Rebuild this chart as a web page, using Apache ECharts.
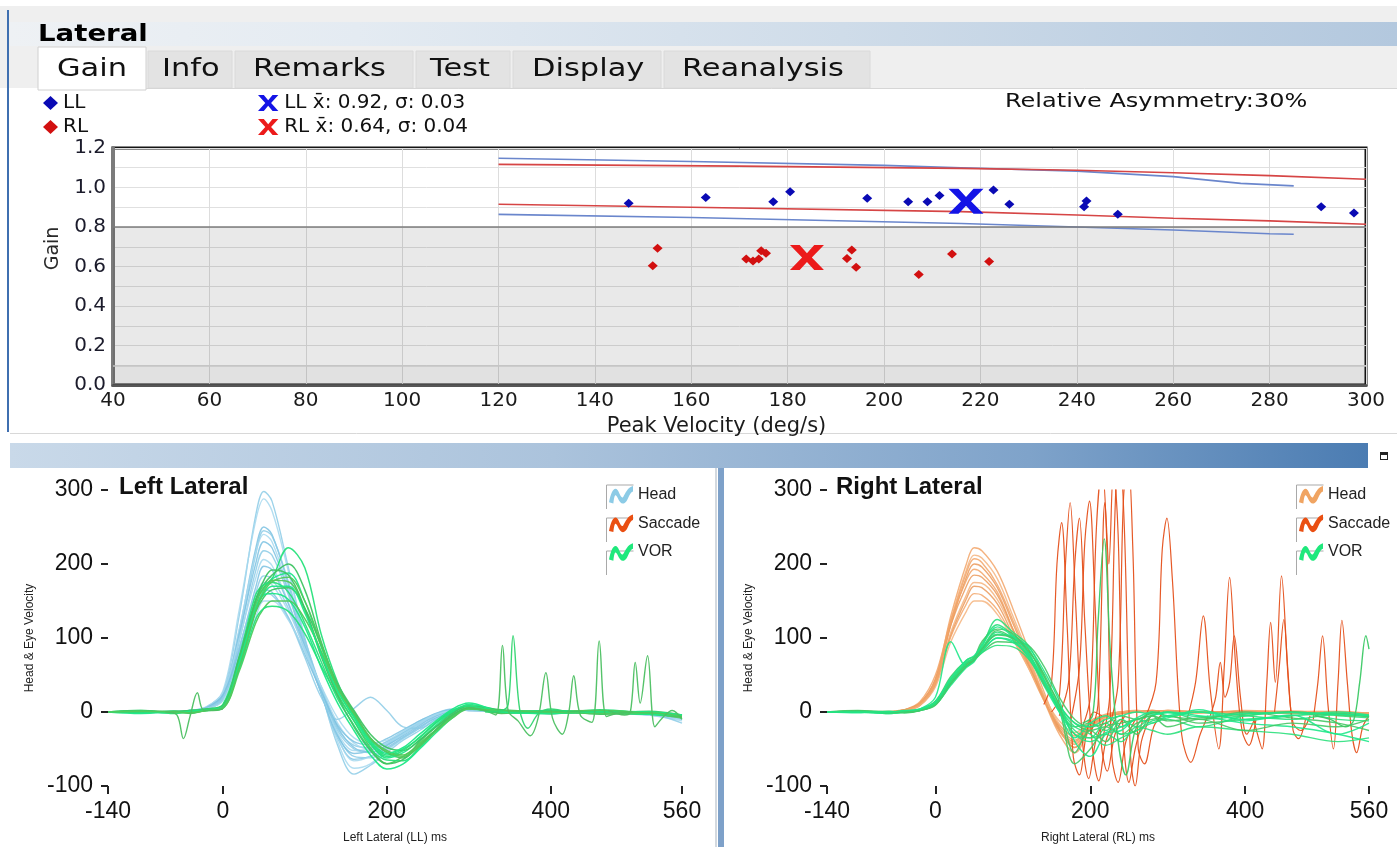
<!DOCTYPE html>
<html>
<head>
<meta charset="utf-8">
<title>Lateral</title>
<script src="https://cdn.jsdelivr.net/npm/echarts@6.0.0/dist/echarts.min.js"></script>
<style>
  html, body { margin: 0; padding: 0; background: #fff; }
  #page { position: relative; width: 1397px; height: 847px; overflow: hidden; background: #fff; }
  .abs { position: absolute; }
  #gain { left: 0; top: 0; width: 1397px; height: 440px; }
  #bar { left: 10px; top: 443px; width: 1358px; height: 25px;
         background: linear-gradient(to right, #c9d9e9 0%, #abc3dc 40%, #7fa3ca 75%, #4b7cb2 100%); }
  #corner { left: 1368px; top: 443px; width: 29px; height: 25px; background: #fff; }
  #corner i { position: absolute; left: 12px; top: 9px; width: 6px; height: 4px; border: 1.5px solid #222; border-top-width: 3px; }
  #divider { left: 715px; top: 468px; width: 9px; height: 379px;
             background: linear-gradient(to right, #d3d9df 0, #d3d9df 2px, #fff 2px, #fff 3px, #7ea1c9 3px); }
  #leftChart { left: 0; top: 468px; width: 715px; height: 379px; }
  #rightChart { left: 724px; top: 468px; width: 673px; height: 379px; }
</style>
</head>
<body>
<div id="page">
  <div id="gain" class="abs"></div>
  <div id="bar" class="abs"></div>
  <div id="corner" class="abs"><i></i></div>
  <div id="leftChart" class="abs"></div>
  <div id="divider" class="abs"></div>
  <div id="rightChart" class="abs"></div>
</div>
<script>
// ---------- gain plot data (peak velocity deg/s, gain) ----------
const llPoints = [[147, 0.92], [163, 0.95], [177, 0.928], [180.5, 0.979], [196.5, 0.945], [205, 0.928],
  [209, 0.928], [211.5, 0.959], [222.7, 0.987], [226, 0.915], [242, 0.932], [241.5, 0.903],
  [248.5, 0.865], [290.7, 0.902], [297.5, 0.871]];
const rlPoints = [[153, 0.692], [152, 0.604], [171.4, 0.638], [172.8, 0.628], [174, 0.638], [174.5, 0.68],
  [175.5, 0.667], [193.3, 0.684], [192.3, 0.641], [194.2, 0.596], [207.2, 0.56], [214.1, 0.663], [221.8, 0.625]];
const llMean = [217, 0.93];
const rlMean = [184, 0.645];
const llNormUpper = [[120, 1.148], [160, 1.132], [200, 1.112], [216, 1.1], [240, 1.083], [260, 1.055], [274, 1.021], [285, 1.008]];
const llNormLower = [[120, 0.864], [160, 0.848], [216, 0.818], [240, 0.8], [260, 0.785], [280, 0.766], [285, 0.763]];
const rlNormUpper = [[120, 1.117], [170, 1.108], [216, 1.097], [240, 1.087], [260, 1.075], [280, 1.06], [300, 1.042]];
const rlNormLower = [[120, 0.915], [160, 0.9], [216, 0.878], [240, 0.861], [260, 0.844], [280, 0.831], [300, 0.814]];

const LL_MEAN = 'LL x\u0304: 0.92, \u03c3: 0.03';
const RL_MEAN = 'RL x\u0304: 0.64, \u03c3: 0.04';
const asymmetryText = 'Relative Asymmetry:30%';
const tabNames = ['Gain', 'Info', 'Remarks', 'Test', 'Display', 'Reanalysis'];

// ---------- impulse traces (ms, deg/s) ----------
const timeGrid = [-140, -100, -60, -40, -20, 0, 20, 40, 50, 60, 80, 100, 120, 140, 160, 180, 200, 220, 240, 260, 280, 300, 340, 400, 460, 520, 560];
const xTicks = [-140, 0, 200, 400, 560];

const leftHead = [
  [0, 0, 0, 1, 5, 25, 130, 265, 298, 285, 195, 100, 28, -45, -84, -72, -55, -38, -25, -10, -2, 3, 2, -2, 1, -4, -10],
  [0, 0, 0, 2, 7, 28, 138, 258, 288, 272, 190, 98, 26, -40, -76, -70, -52, -36, -22, -8, 0, 4, 1, -2, 1, -3, -9],
  [0, 0, 0, 2, 6, 22, 110, 220, 250, 240, 172, 92, 26, -35, -64, -60, -48, -34, -20, -8, 0, 4, 1, -1, 2, -3, -8],
  [0, 1, 0, 1, 4, 18, 100, 212, 245, 238, 176, 98, 32, -30, -60, -62, -50, -35, -22, -6, 2, 5, 0, 2, -1, -4, -6],
  [0, 1, 0, 2, 6, 24, 112, 214, 240, 230, 166, 90, 25, -34, -66, -60, -46, -30, -16, -5, 2, 3, 0, -1, 2, -4, -12],
  [0, 0, -1, 2, 6, 24, 105, 200, 230, 222, 162, 88, 25, -32, -56, -52, -42, -30, -16, -4, 3, 4, -1, 0, 1, -2, -9],
  [0, 0, 0, 1, 5, 20, 95, 190, 218, 212, 158, 90, 30, -25, -50, -55, -44, -28, -14, -2, 4, 3, 0, -2, 0, -3, -7],
  [0, 1, 0, 2, 7, 26, 98, 180, 206, 198, 148, 84, 28, -28, -52, -50, -40, -26, -12, -3, 3, 2, 1, -1, 0, -4, -10],
  [0, 0, 0, 1, 4, 16, 85, 168, 197, 192, 146, 88, 34, -20, -48, -54, -45, -32, -18, -5, 2, 4, 0, 1, -2, -2, -6],
  [0, 0, 1, 2, 5, 20, 88, 160, 184, 180, 140, 84, 30, -22, -45, -48, -40, -28, -14, -3, 3, 2, 2, -1, 1, -3, -8],
  [0, -1, 0, 1, 4, 18, 80, 150, 175, 172, 136, 86, 34, -15, -42, -50, -42, -30, -16, -4, 2, 3, 0, 0, -1, -2, -5],
  [0, 0, 0, 2, 6, 22, 82, 145, 165, 162, 128, 78, 28, -18, -40, -44, -36, -24, -12, -2, 3, 2, 1, -2, 0, -3, -7],
  [0, 0, 0, 1, 5, 18, 75, 138, 160, 158, 126, 74, 20, -10, 5, 20, 2, -20, -22, -10, 0, 3, 0, -1, 1, -2, -15],
  [0, 0, 0, 1, 4, 15, 70, 128, 150, 150, 124, 82, 35, -8, -35, -42, -38, -26, -14, -3, 2, 3, 0, -1, 0, -2, -6]
];
const leftVor = [
  [0, 2, -2, 0, 2, 6, 70, 150, 168, 180, 222, 195, 105, 40, -5, -40, -58, -50, -35, -15, 0, 8, 2, -2, 3, -2, -5],
  [0, 0, 1, -2, 3, 8, 72, 152, 172, 185, 200, 165, 95, 35, 0, -35, -55, -62, -40, -20, -5, 6, 0, 2, -3, 1, -4],
  [0, -2, 0, 1, 2, 5, 62, 140, 165, 180, 188, 150, 88, 30, -8, -42, -62, -55, -38, -18, 0, 10, 2, -1, 0, -3, -6],
  [0, 1, -1, 0, 3, 7, 66, 145, 168, 178, 176, 138, 80, 25, -12, -48, -70, -60, -44, -24, -6, 5, -2, 1, 2, -2, -8],
  [0, 0, 0, 2, 4, 10, 75, 158, 172, 175, 162, 120, 68, 18, -18, -50, -65, -66, -48, -25, -4, 4, 0, -2, 1, 0, -5],
  [0, 2, 0, -1, 2, 6, 60, 135, 155, 165, 168, 140, 90, 38, 2, -30, -48, -52, -38, -20, -2, 8, 3, 0, -2, -3, -6],
  [0, -1, 1, 0, 3, 9, 68, 140, 158, 160, 152, 115, 60, 12, -25, -58, -77, -70, -50, -28, -8, 5, 0, 2, -1, 0, -4],
  [0, 0, 0, -1, 2, 5, 55, 120, 140, 150, 150, 126, 82, 32, -4, -35, -52, -58, -42, -24, -6, 6, 1, -2, 2, -2, -7],
  [0, 1, 0, 0, 3, 8, 58, 125, 140, 143, 136, 106, 62, 22, -12, -44, -60, -52, -34, -14, 2, 8, 0, 0, -1, -3, -5],
  [0, 0, 1, 2, 4, 9, 74, 150, 178, 192, 185, 140, 75, 22, -20, -52, -70, -64, -46, -24, -4, 5, -1, 1, 0, -2, -6],
  [0, 0, -1, 1, 3, 7, 64, 138, 160, 170, 170, 134, 78, 28, -6, -38, -56, -48, -30, -12, 4, 12, 0, -2, 0, -3, -4],
  [0, 1, 0, -1, 2, 6, 60, 136, 162, 176, 182, 150, 92, 34, -2, -36, -54, -60, -46, -26, -8, 4, 2, 0, -2, -1, -6]
];
const leftVorExtra = [
  [[-70, 0], [-56, -4], [-48, -36], [-40, -6], [-31, 26], [-24, 3], [-12, 2], [0, 4]],
  [[300, 6], [320, 2], [333, -4], [341, 90], [348, 2], [360, -12], [375, -32], [385, -6], [394, 53], [402, -8],
   [414, -30], [422, 0], [428, 49], [436, -4], [450, -14], [459, 96], [468, -6], [480, -2], [500, 0]],
  [[320, 0], [340, 2], [348, 10], [354, 103], [362, 4], [372, -22], [385, -2], [400, 4], [420, 0]],
  [[470, 2], [490, -4], [497, 0], [503, 67], [509, 12], [518, 76], [527, -20], [536, -8], [548, 2], [560, -10]]
];

const rightHead = [
  [0, 0, 0, 3, 12, 45, 130, 200, 222, 218, 190, 140, 85, 28, -22, -48, -22, -6, 0, 1, 2, 0, -1, 1, 0, -2, -3],
  [0, 1, 0, 2, 10, 42, 125, 192, 212, 208, 180, 130, 78, 22, -26, -42, -20, -6, -1, 1, 0, 2, 0, -1, 1, 0, -2],
  [0, 0, -1, 2, 9, 38, 118, 182, 200, 196, 168, 120, 70, 18, -24, -40, -16, -4, 0, 2, -1, 1, 0, 0, -1, -2, -1],
  [0, 0, 0, 3, 14, 50, 124, 178, 193, 188, 162, 112, 64, 16, -30, -55, -24, -8, -2, 0, 1, 0, -1, 2, 0, -1, -3],
  [0, 1, 0, 2, 10, 38, 108, 158, 175, 174, 152, 110, 68, 24, -16, -34, -14, -4, 0, 1, 2, 0, 0, -1, 0, 1, -2],
  [0, 0, 0, 2, 9, 36, 104, 153, 170, 168, 146, 104, 62, 18, -20, -38, -16, -6, -2, 0, 1, 2, 0, 0, -1, -1, -2],
  [0, 0, 1, 3, 11, 40, 102, 146, 160, 158, 138, 100, 60, 16, -18, -32, -12, -3, 0, 1, 0, 1, -1, 0, 1, -2, -1],
  [0, 0, 0, 2, 9, 34, 95, 136, 150, 150, 132, 98, 60, 20, -12, -28, -12, -4, 0, 2, 1, 0, 0, -1, 0, -1, -2],
  [0, 1, 0, 3, 12, 44, 118, 170, 185, 182, 158, 112, 66, 18, -24, -48, -20, -6, -2, 0, 2, 1, 0, 0, -2, 0, -3],
  [0, 0, 0, 2, 11, 42, 122, 188, 207, 202, 172, 124, 74, 20, -26, -44, -18, -5, -1, 1, 0, 2, 0, -1, 0, -1, -2]
];
const rightVor = [
  [0, 0, -2, 0, 3, 12, 42, 66, 74, 88, 125, 108, 90, 50, 5, -20, -15, -25, -10, -20, -5, 0, -10, -5, 0, -5, -8],
  [0, 2, 0, 1, 4, 15, 48, 70, 75, 86, 110, 100, 82, 52, 10, -15, -25, -20, -30, -15, -10, -5, -15, -10, -5, -2, -6],
  [0, 0, -2, 0, 2, 10, 38, 62, 70, 82, 100, 96, 74, 36, 0, -30, -40, -28, -20, -10, -5, 0, -5, -15, -20, -30, -40],
  [0, 1, 0, -1, 3, 14, 44, 66, 72, 92, 118, 104, 86, 44, 2, -25, -35, -15, -30, -25, -12, -8, 0, -5, -10, -3, -5],
  [0, 0, 0, 1, 3, 12, 40, 65, 70, 80, 95, 94, 90, 62, 20, -10, -20, -15, -5, -10, 0, -5, -10, 0, -8, -15, -25],
  [0, -1, 1, 0, 2, 10, 36, 60, 68, 85, 105, 102, 88, 56, 15, -40, -60, -30, -25, -10, -15, -5, 0, -10, -5, 0, -4],
  [0, 0, -1, 0, 3, 11, 44, 68, 72, 80, 90, 88, 72, 40, 5, -20, -30, -45, -35, -25, -15, -10, -20, -5, 0, -10, -12],
  [0, 1, 0, -1, 2, 13, 40, 64, 73, 95, 112, 106, 80, 38, 3, -70, -50, -20, -15, -10, -5, -12, -8, -3, 0, -4, -6],
  [0, 0, -1, 0, 4, 20, 95, 62, 70, 82, 100, 94, 76, 42, 8, -15, -20, -10, -5, 0, -3, -1, -6, -2, -1, -3, -5],
  [0, 0, 0, 1, 3, 12, 40, 66, 72, 86, 108, 98, 78, 44, 6, -30, -35, -30, -40, -20, -25, -30, -20, -25, -30, -40, -35],
  [0, 1, -1, 0, 2, 9, 38, 62, 70, 84, 104, 100, 84, 48, 10, -55, -25, -40, -10, -30, -5, -20, -10, -25, -15, -20, -10],
  [0, 0, 0, 2, 4, 14, 46, 70, 76, 90, 115, 102, 80, 42, 0, -35, -15, -5, -20, -8, 0, -6, 3, -12, -4, -30, -15]
];
const rightVorExtra = [
  [[190, -15], [203, -5], [210, 120], [218, 234], [226, 80], [236, -40], [246, -85], [258, -25], [272, -5], [290, 0]],
  [[490, -5], [510, -10], [530, -20], [540, -12], [548, 40], [556, 103], [560, 85]]
];
const rightSaccade = [
  [[140, 10], [150, 40], [157, 200], [163, 256], [170, 120], [178, -60], [186, -85], [195, -30], [205, 0], [215, -5]],
  [[150, 0], [160, 20], [168, 200], [174, 283], [181, 150], [190, -40], [198, -90], [207, -40], [218, -10]],
  [[160, -5], [172, 40], [180, 200], [186, 262], [193, 120], [203, -50], [211, -93], [220, -40], [232, -10]],
  [[175, -10], [186, 60], [193, 230], [199, 285], [206, 150], [214, -40], [222, -80], [232, -30], [245, -5]],
  [[190, -20], [200, 20], [208, 250], [215, 330], [221, 240], [228, -60], [236, -95], [246, -40], [258, -10]],
  [[200, -30], [210, 10], [219, 283], [224, 200], [230, 330], [236, 240], [242, -20], [250, -95], [258, -50], [268, -10]],
  [[215, -40], [225, 20], [233, 300], [238, 340], [244, 250], [252, -60], [258, -100], [266, -40], [278, -5]],
  [[225, -20], [236, 40], [243, 290], [249, 340], [255, 220], [262, -50], [270, -70], [282, -20], [295, 0]],
  [[270, -10], [285, 40], [293, 220], [299, 262], [306, 180], [318, -30], [330, -68], [342, -30], [352, -5]],
  [[325, -10], [336, 40], [346, 130], [355, 30], [366, -50], [373, 60], [380, 182], [388, 60], [396, -25], [405, -45], [414, -10]],
  [[355, -5], [362, 20], [368, 67], [374, 20], [380, 40], [386, 103], [394, 20], [402, -30], [412, -10]],
  [[410, -5], [416, -30], [422, -50], [428, 40], [433, 121], [439, 40], [447, 184], [455, 60], [462, -25], [469, -36], [478, -10]],
  [[438, 0], [444, 60], [450, 125], [456, 40], [462, -15], [472, -25], [484, -5]],
  [[488, -10], [494, 40], [500, 103], [507, 10], [514, -50], [520, 40], [525, 124], [532, 40], [538, -30], [544, -55], [552, -20], [560, -5]]
];

// ---------- shapes / colours ----------
const X_ICON = 'path://M0,0L4,0L7,3.6L10,0L14,0L9,5.5L14,11L10,11L7,7.4L4,11L0,11L5,5.5Z';
const WAVE_ICON = 'path://M1,17C3,7 6,2 9,6C11,9 12,14 14,12C16,9 18,3 23,2L23,7C20,8 19,13 17,16C14,20 11,18 9,13C7,9 6,9 5,18Z';
const SACCADE_COLOR = '#e5501b';

// ======================= gain chart =======================
const gainChart = echarts.init(document.getElementById('gain'));

function headerGraphics() {
  const els = [];
  els.push({ type: 'rect', silent: true, shape: { x: 0, y: 6, width: 1397, height: 82 }, style: { fill: '#efefef' } });
  els.push({
    type: 'rect', silent: true, shape: { x: 10, y: 22, width: 1387, height: 24 },
    style: {
      fill: new echarts.graphic.LinearGradient(0, 0, 1, 0, [
        { offset: 0, color: '#eef1f4' }, { offset: 0.25, color: '#e4ebf2' },
        { offset: 0.6, color: '#cfdce9' }, { offset: 1, color: '#b3c8de' }
      ])
    }
  });
  els.push({ type: 'text', silent: true, x: 38, y: 35, scaleX: 1.2,
    style: { text: 'Lateral', fontSize: 23, fontWeight: 'bold', fontFamily: 'DejaVu Sans', fill: '#000', verticalAlign: 'middle' } });

  // tabs
  const tabBox = [[38, 146], [148, 232], [235, 413], [416, 510], [513, 661], [664, 870]];
  const tabText = [57, 162, 253, 430, 532, 682];
  tabNames.forEach((name, i) => {
    const active = i === 0;
    els.push({
      type: 'rect', silent: true,
      shape: { x: tabBox[i][0], y: active ? 47 : 51, width: tabBox[i][1] - tabBox[i][0], height: active ? 43 : 37 },
      style: { fill: active ? '#ffffff' : '#e3e3e3', stroke: active ? '#d0d0d0' : '#dadada', lineWidth: 1 }
    });
    els.push({ type: 'text', silent: true, x: tabText[i], y: 70, scaleX: 1.27,
      style: { text: name, fontSize: 24, fontFamily: 'DejaVu Sans', fill: '#111', verticalAlign: 'middle' } });
  });
  // white panel below tabs
  els.push({ type: 'rect', silent: true, z: -1, shape: { x: 10, y: 89, width: 1387, height: 343 }, style: { fill: '#fff' } });
  els.push({ type: 'line', silent: true, shape: { x1: 146, y1: 88.5, x2: 1397, y2: 88.5 }, style: { stroke: '#d6d6d6', lineWidth: 1 } });
  els.push({ type: 'line', silent: true, shape: { x1: 10, y1: 433.5, x2: 1397, y2: 433.5 }, style: { stroke: '#d8d8d8', lineWidth: 1 } });
  els.push({ type: 'line', silent: true, shape: { x1: 8, y1: 10, x2: 8, y2: 432 }, style: { stroke: '#3f6fb0', lineWidth: 2 } });

  els.push({ type: 'text', silent: true, x: 1005, y: 102, scaleX: 1.2,
    style: { text: asymmetryText, fontSize: 20, fontFamily: 'DejaVu Sans', fill: '#111', verticalAlign: 'middle' } });
  return els;
}

function normLine(name, data, color, extra) {
  return Object.assign({
    name: name, type: 'line', data: data, showSymbol: false, symbol: 'none', silent: true,
    lineStyle: { color: color, width: 1.6 }, itemStyle: { color: color }, z: 3
  }, extra || {});
}

const gainLegendText = { fontSize: 20, color: '#111', fontFamily: 'DejaVu Sans' };

gainChart.setOption({
  animation: false,
  textStyle: { fontFamily: 'DejaVu Sans' },
  graphic: { elements: headerGraphics() },
  legend: [
    {
      left: 43, top: 93, orient: 'vertical', padding: 0, itemGap: 4, itemWidth: 15, itemHeight: 14,
      selectedMode: false, textStyle: gainLegendText, itemStyle: { opacity: 1, borderWidth: 0 },
      data: [{ name: 'LL', icon: 'diamond' }, { name: 'RL', icon: 'diamond' }]
    },
    {
      left: 258, top: 93, orient: 'vertical', padding: 0, itemGap: 4, itemWidth: 22, itemHeight: 16,
      selectedMode: false, textStyle: gainLegendText, itemStyle: { opacity: 1, borderWidth: 0 },
      data: [{ name: LL_MEAN, icon: X_ICON }, { name: RL_MEAN, icon: X_ICON }]
    }
  ],
  grid: {
    left: 113, right: 31, top: 148, height: 237, show: true,
    borderColor: '#141414', borderWidth: 3, backgroundColor: 'transparent',
    containLabel: false, outerBoundsMode: 'none'
  },
  xAxis: {
    type: 'value', min: 40, max: 300, interval: 20,
    name: 'Peak Velocity (deg/s)', nameLocation: 'middle', nameGap: 26,
    nameTextStyle: { fontSize: 21, color: '#1c1c1c', padding: [0, 46, 0, 0] },
    axisLine: { show: true, onZero: false, lineStyle: { color: '#565656', width: 3 } },
    axisTick: { show: false },
    axisLabel: { fontSize: 20, color: '#1b1b1b', margin: 6 },
    splitLine: { show: true, lineStyle: { color: '#dddddd', width: 1 } }
  },
  yAxis: {
    type: 'value', min: 0, max: 1.2, interval: 0.2,
    name: 'Gain', nameLocation: 'middle', nameGap: 50, nameRotate: 90,
    nameTextStyle: { fontSize: 19, color: '#2a2a2a', padding: [0, 0, 0, 36] },
    axisLine: { show: true, onZero: false, lineStyle: { color: '#7b7b7b', width: 4 } },
    axisTick: { show: false },
    axisLabel: { fontSize: 20, color: '#1b1b2b', margin: 7, formatter: v => v.toFixed(1) },
    splitLine: { show: true, lineStyle: { color: '#e0e0e0' } },
    minorTick: { show: false, splitNumber: 2 },
    minorSplitLine: { show: true, lineStyle: { color: '#e0e0e0' } }
  },
  series: [
    normLine('LL norm upper', llNormUpper, '#6a86cc', {
      // grey "abnormal" zone below 0.8
      markArea: {
        silent: true,
        data: [
          [{ yAxis: 0, itemStyle: { color: 'rgba(0,0,0,0.085)' } }, { yAxis: 0.8 }],
          [{ yAxis: 0, itemStyle: { color: 'rgba(0,0,0,0.03)' } }, { yAxis: 0.1 }]
        ]
      },
      markLine: {
        silent: true, symbol: 'none', label: { show: false },
        data: [
          { yAxis: 0.8, lineStyle: { color: '#7d7d7d', width: 1.5, type: 'solid' } },
          { yAxis: 0.1, lineStyle: { color: '#c4c4c4', width: 1.5, type: 'solid' } }
        ]
      }
    }),
    normLine('LL norm lower', llNormLower, '#6a86cc'),
    normLine('RL norm upper', rlNormUpper, '#d64545'),
    normLine('RL norm lower', rlNormLower, '#d64545'),
    { name: 'LL', type: 'scatter', data: llPoints, symbol: 'diamond', symbolSize: [10, 9],
      itemStyle: { color: '#0a0ab4', opacity: 1 }, z: 4 },
    { name: 'RL', type: 'scatter', data: rlPoints, symbol: 'diamond', symbolSize: [10, 9],
      itemStyle: { color: '#d21010', opacity: 1 }, z: 4 },
    { name: LL_MEAN, type: 'scatter', data: [llMean], symbol: X_ICON, symbolSize: [35, 25], symbolKeepAspect: false,
      itemStyle: { color: '#1414e6', opacity: 1 }, z: 5 },
    { name: RL_MEAN, type: 'scatter', data: [rlMean], symbol: X_ICON, symbolSize: [34, 25], symbolKeepAspect: false,
      itemStyle: { color: '#ec1a1a', opacity: 1 }, z: 5 }
  ]
});

// ======================= impulse charts =======================
function pairTrace(name, data, color, width, opacity) {
  return {
    name: name, type: 'line', data: data, smooth: 0.35, showSymbol: false, symbol: 'none',
    silent: true, clip: true,
    lineStyle: { color: color, width: width, opacity: opacity }, itemStyle: { color: color }
  };
}
function gridTrace(name, values, color, width, opacity) {
  return pairTrace(name, timeGrid.map((t, i) => [t, values[i]]), color, width, opacity);
}

function legendFrames(x, centers) {
  return centers.map(c => ({
    type: 'polyline', silent: true,
    shape: { points: [[x, c + 12], [x, c - 12], [x + 27, c - 12]] },
    style: { stroke: '#a9a9a9', lineWidth: 1, fill: null }
  }));
}

function impulseOption(cfg) {
  return {
    animation: false,
    textStyle: { fontFamily: 'Liberation Sans' },
    graphic: {
      elements: [{
        type: 'text', silent: true, x: cfg.titleX, y: 19,
        style: { text: cfg.title, fontSize: 24, fontWeight: 'bold', fontFamily: 'Liberation Sans', fill: '#111', verticalAlign: 'middle' }
      }].concat(legendFrames(cfg.legendLeft - 2.5, [29, 62, 95]))
    },
    legend: {
      left: cfg.legendLeft, top: 18, orient: 'vertical', padding: 0, itemGap: 11,
      itemWidth: 24, itemHeight: 22, selectedMode: false,
      itemStyle: { borderWidth: 0, opacity: 1 },
      textStyle: { fontSize: 16, color: '#222', fontFamily: 'Liberation Sans' },
      data: [
        { name: 'Head', icon: WAVE_ICON, itemStyle: { color: cfg.headLegend } },
        { name: 'Saccade', icon: WAVE_ICON, itemStyle: { color: '#ea4f12' } },
        { name: 'VOR', icon: WAVE_ICON, itemStyle: { color: '#1ee87c' } }
      ]
    },
    grid: { left: cfg.gridLeft, right: cfg.gridRight, top: 22, height: 296, containLabel: false, outerBoundsMode: 'none' },
    xAxis: {
      type: 'value', min: -140, max: 560,
      name: cfg.xName, nameLocation: 'middle', nameGap: 46,
      nameTextStyle: { fontSize: 12, color: '#222' },
      axisLine: { show: false, onZero: false },
      axisTick: { show: true, customValues: xTicks, length: 8, lineStyle: { color: '#222', width: 2 } },
      axisLabel: { customValues: xTicks, fontSize: 23, color: '#111', margin: 14 },
      splitLine: { show: false }
    },
    yAxis: {
      type: 'value', min: -100, max: 300, interval: 100,
      name: 'Head & Eye Velocity', nameLocation: 'middle', nameGap: 69, nameRotate: 90,
      nameTextStyle: { fontSize: 12, color: '#222' },
      axisLine: { show: false, onZero: false },
      axisTick: { show: true, length: 7, lineStyle: { color: '#222', width: 2 } },
      axisLabel: { fontSize: 23, color: '#111', margin: 15 },
      splitLine: { show: false }
    },
    series: cfg.series
  };
}

// left lateral
const leftSeries = [];
const blueShades = ['#8ccbe6', '#a6d8ee', '#7cc2e2'];
const greenShades = ['#27e27b', '#3fc463', '#1fe886', '#52c95c'];
leftHead.forEach((v, i) => leftSeries.push(gridTrace('Head', v, blueShades[i % 3], 1.4, 0.85)));
leftSeries.push({ name: 'Saccade', type: 'line', data: [], itemStyle: { color: SACCADE_COLOR } });
leftVor.forEach((v, i) => leftSeries.push(gridTrace('VOR', v, greenShades[i % 4], 1.5, 0.95)));
leftVorExtra.forEach((d, i) => leftSeries.push(pairTrace('VOR', d, i === 2 ? '#30d56f' : '#4cc062', 1.4, 0.95)));

const leftChart = echarts.init(document.getElementById('leftChart'));
leftChart.setOption(impulseOption({
  title: 'Left Lateral', titleX: 119, legendLeft: 609, headLegend: '#8ccbe6',
  gridLeft: 108, gridRight: 33, xName: 'Left Lateral (LL) ms', series: leftSeries
}));

// right lateral
const rightSeries = [];
const orangeShades = ['#f2a469', '#f5b47f', '#eb9a5c'];
const greenShadesR = ['#2be07c', '#45c865', '#1ee889'];
rightHead.forEach((v, i) => rightSeries.push(gridTrace('Head', v, orangeShades[i % 3], 1.4, 0.85)));
rightSaccade.forEach(d => rightSeries.push(pairTrace('Saccade', d, SACCADE_COLOR, 1.2, 0.95)));
rightVor.forEach((v, i) => rightSeries.push(gridTrace('VOR', v, greenShadesR[i % 3], 1.4, 0.9)));
rightVorExtra.forEach(d => rightSeries.push(pairTrace('VOR', d, '#3cc965', 1.4, 0.95)));

const rightChart = echarts.init(document.getElementById('rightChart'));
rightChart.setOption(impulseOption({
  title: 'Right Lateral', titleX: 112, legendLeft: 575, headLegend: '#f0a462',
  gridLeft: 103, gridRight: 28, xName: 'Right Lateral (RL) ms', series: rightSeries
}));
</script>
</body>
</html>
